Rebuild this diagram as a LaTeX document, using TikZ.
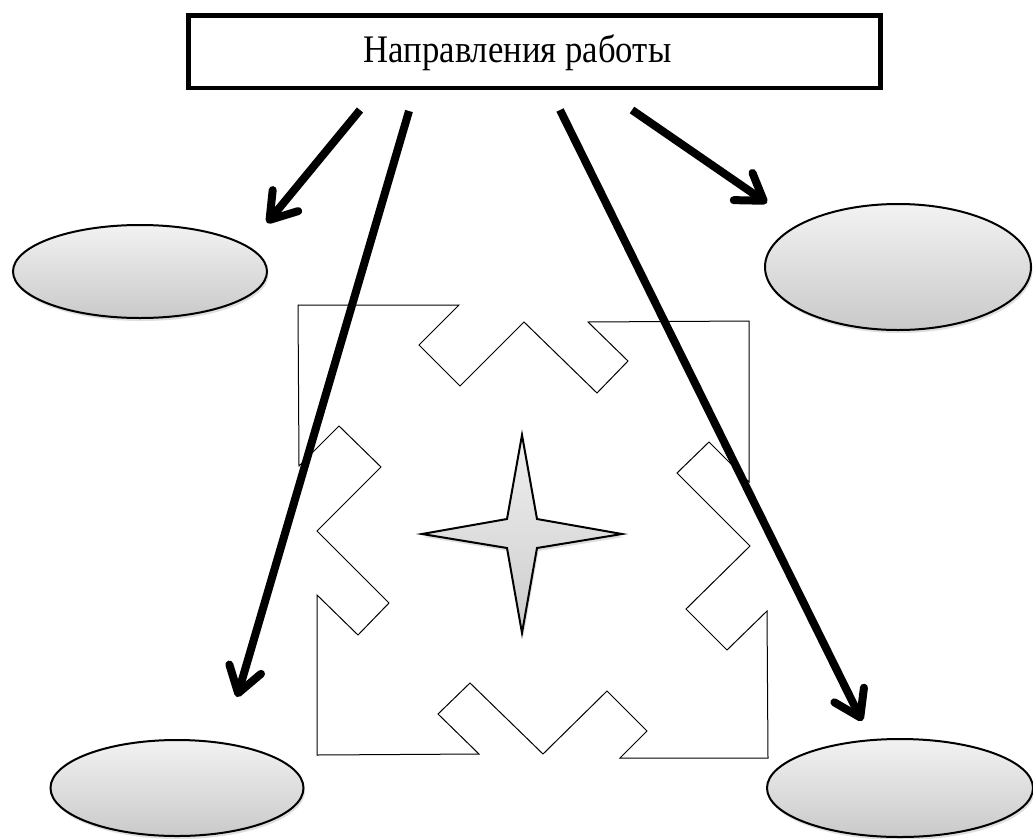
\documentclass[tikz,border=0pt]{standalone}
\usepackage{fontspec}
\usepackage{graphicx}
\setmainfont{Liberation Serif}
\usetikzlibrary{arrows.meta,shapes.geometric,shadows}

\begin{document}
\begin{tikzpicture}[x=1pt,y=-1pt,
  oval/.style={ellipse, draw=black, line width=2pt, top color=gray!10, bottom color=gray!42, inner sep=0pt,
    drop shadow={opacity=0.25,shadow xshift=1.5pt,shadow yshift=-3pt}},
  bigarrow/.style={line width=8pt, line cap=butt, -{Straight Barb[length=25pt,width=33pt,round]}},
  puzzle/.style={draw=black, line width=1pt, line join=miter},
  starshape/.style={draw=black, line width=2pt, line join=miter, top color=gray!12, bottom color=gray!40,
    drop shadow={opacity=0.25,shadow xshift=1.5pt,shadow yshift=-3pt}},
  titlebox/.style={draw=black, line width=4.5pt, inner sep=0pt, fill=white}
]
\useasboundingbox (0,0) rectangle (1033,838);
\fill[white] (0,0) rectangle (1033,838);

% title
\node[titlebox, minimum width=692pt, minimum height=72.5pt] (title) at (534.5,51.5) {};
\node[anchor=base, inner sep=0pt] (titletext) at (517.5,62) {\fontsize{39}{44}\selectfont\scalebox{0.89}[1]{Направления работы}};

% puzzle outline
\draw[puzzle] (298,305) -- (459,305) -- (419,345) -- (460,386) -- (524,322) -- (597,393) -- (628,361) -- (588,322)
  -- (749,321) -- (749,482) -- (709,442) -- (677,473) -- (750,546) -- (686,609) -- (727,650) -- (767,611)
  -- (768,758) -- (620,758) -- (647,731) -- (607,691) -- (543,754) -- (470,683) -- (438,714) -- (479,754)
  -- (317,755) -- (317,595) -- (358,635) -- (389,603) -- (317,531) -- (381,467) -- (339,426) -- (299,466) -- cycle;

% star
\path[starshape] (522,435) -- (537,519) -- (622,534) -- (537,548) -- (522,633) -- (507,548) -- (422,534) -- (507,519) -- cycle;

% ellipses
\node[oval, minimum width=254pt, minimum height=93pt] (e1) at (140,271.5) {};
\node[oval, minimum width=266pt, minimum height=126pt] (e2) at (898,267) {};
\node[oval, minimum width=253pt, minimum height=96pt] (e3) at (177,788) {};
\node[oval, minimum width=266pt, minimum height=98pt] (e4) at (900,788) {};

% arrows
\coordinate (s1) at (360,110); \coordinate (t1) at (267,223);
\coordinate (s2) at (409,111); \coordinate (t2) at (237,697);
\coordinate (s3) at (560,110); \coordinate (t3) at (862,721);
\coordinate (s4) at (632,110); \coordinate (t4) at (767,203);
\draw[bigarrow] (s1) -- (t1);
\draw[bigarrow] (s2) -- (t2);
\draw[bigarrow] (s3) -- (t3);
\draw[bigarrow] (s4) -- (t4);
\end{tikzpicture}
\end{document}
